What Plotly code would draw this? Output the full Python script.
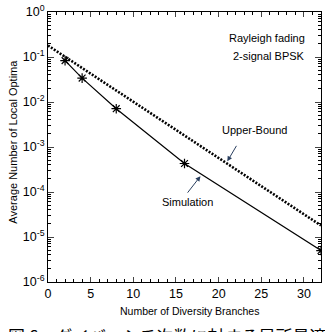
import plotly.graph_objects as go

# Data
sim_x = [2, 4, 8, 16, 32]
sim_y = [0.083, 0.034, 0.0071, 0.00043, 5.0e-6]
ub_x = [0, 2, 4, 8, 16, 32]
ub_y = [0.18, 0.101, 0.057, 0.018, 0.0018, 1.8e-5]

x_ticks = [0, 5, 10, 15, 20, 25, 30]
y_exps = [0, -1, -2, -3, -4, -5, -6]

FONT = "Liberation Sans, Arial, sans-serif"

fig = go.Figure()
fig.add_trace(go.Scatter(x=ub_x, y=ub_y, mode="lines",
                         line=dict(color="black", width=2.6, dash="2px,1.5px"),
                         showlegend=False))
fig.add_trace(go.Scatter(x=sim_x, y=sim_y, mode="lines+markers",
                         line=dict(color="black", width=1.2),
                         marker=dict(symbol="asterisk-open", size=8,
                                     line=dict(color="black", width=1.2)),
                         showlegend=False))

fig.update_layout(
    width=325, height=332,
    margin=dict(l=48, r=3, t=9, b=50),
    paper_bgcolor="white", plot_bgcolor="white",
    font=dict(family=FONT, size=12, color="black"),
    xaxis=dict(range=[0, 32], tickvals=x_ticks, ticks="inside", ticklen=5,
               showline=True, linecolor="black", linewidth=1, mirror="allticks",
               showgrid=False, zeroline=False,
               minor=dict(ticks="inside", ticklen=3, dtick=1, tickcolor="black"),
               tickfont=dict(size=12.5)),
    yaxis=dict(type="log", range=[-6, 0],
               tickvals=[10 ** e for e in y_exps],
               ticktext=["10<sup>%d</sup>" % e for e in y_exps],
               ticks="inside", ticklen=6,
               showline=True, linecolor="black", linewidth=1, mirror="allticks",
               showgrid=False, zeroline=False,
               minor=dict(ticks="inside", ticklen=3, dtick="D1", tickcolor="black"),
               tickfont=dict(size=12.5)),
)

# axis titles
fig.add_annotation(x=0.518, y=-0.106, xref="paper", yref="paper",
                   xanchor="center", yanchor="middle",
                   text="Number of Diversity Branches", showarrow=False,
                   font=dict(size=10.5))
fig.add_annotation(x=-0.128, y=0.52, xref="paper", yref="paper",
                   xanchor="center", yanchor="middle",
                   text="Average Number of Local Optima", showarrow=False,
                   textangle=-90, font=dict(size=11))

# in-plot labels
fig.add_annotation(x=30.35, y=-0.571, xref="x", yref="y", text="Rayleigh fading",
                   showarrow=False, xanchor="right", font=dict(size=11))
fig.add_annotation(x=30.35, y=-0.967, xref="x", yref="y", text="2-signal BPSK",
                   showarrow=False, xanchor="right", font=dict(size=11))
fig.add_annotation(x=24.18, y=-2.615, xref="x", yref="y", text="Upper-Bound",
                   showarrow=False, font=dict(size=11))
fig.add_annotation(x=16.35, y=-4.22, xref="x", yref="y", text="Simulation",
                   showarrow=False, font=dict(size=11))
# arrows
fig.add_annotation(x=21.02, y=-3.319, xref="x", yref="y", text="",
                   showarrow=True, arrowhead=2, arrowsize=1, arrowwidth=1,
                   ax=10, ay=-17)
fig.add_annotation(x=17.87, y=-3.648, xref="x", yref="y", text="",
                   showarrow=True, arrowhead=2, arrowsize=1, arrowwidth=1,
                   ax=-14, ay=18)

# caption (cut off at bottom in the reference)
fig.add_annotation(x=-0.155, y=-0.145, xref="paper", yref="paper",
                   text="図 6　ダイバーシチ次数に対する局所最適",
                   showarrow=False, xanchor="left", yanchor="top",
                   font=dict(size=17, family="Noto Sans CJK JP"))

fig.write_html("out.html")
